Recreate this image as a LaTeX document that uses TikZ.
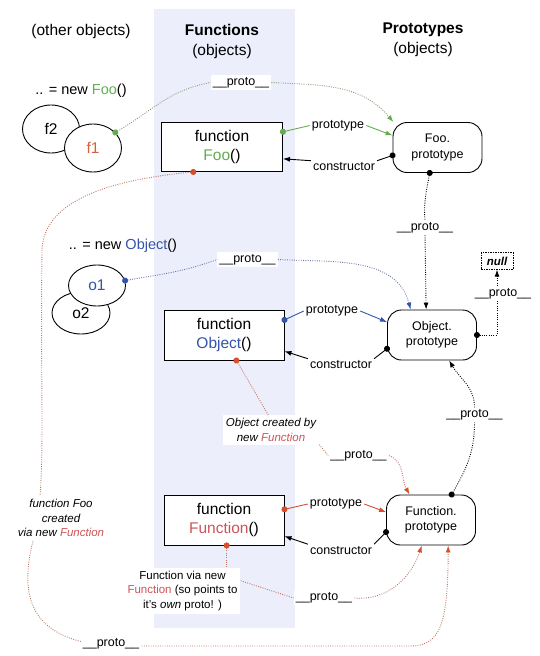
\documentclass[tikz,border=0pt]{standalone}
\usepackage{fontspec}
\setmainfont{Liberation Sans}
\usetikzlibrary{arrows.meta,shapes.geometric}
\definecolor{bandblue}{RGB}{236,238,251}
\definecolor{fgreen}{RGB}{98,172,78}
\definecolor{fblue}{RGB}{52,84,168}
\definecolor{fred}{RGB}{214,78,42}
\definecolor{fpink}{RGB}{204,84,88}
\definecolor{forange}{RGB}{210,100,60}
\definecolor{dgreen}{RGB}{130,155,120}
\definecolor{dblue}{RGB}{105,118,160}
\definecolor{dred}{RGB}{190,115,98}

\begin{document}
\begin{tikzpicture}[x=1pt,y=1pt]
			\tikzstyle{every node}+=[inner sep=0pt]
			\tikzstyle{hdr}=[align=center,font=\fontsize{15.5}{20}\selectfont]
			\tikzstyle{newlbl}=[font=\fontsize{14.5}{17}\selectfont]
			\tikzstyle{fbox}=[draw,line width=0.9pt,fill=white,minimum width=121pt,minimum height=49pt,align=center,font=\fontsize{15.5}{19.5}\selectfont]
			\tikzstyle{pbox}=[draw,line width=0.9pt,fill=white,rounded corners=14pt,minimum width=89pt,minimum height=50pt,align=center,font=\fontsize{12.5}{15.5}\selectfont]
			\tikzstyle{obj}=[draw,ellipse,line width=0.9pt,fill=white,minimum width=57pt,minimum height=48pt,font=\fontsize{15.5}{18}\selectfont]
			\tikzstyle{nullbox}=[draw,line width=0.8pt,dash pattern=on 1.5pt off 1pt,minimum width=32pt,minimum height=16.5pt,font=\fontsize{11.5}{14}\selectfont\bfseries\itshape]
			\tikzstyle{lbl}=[fill=white,inner sep=2pt,font=\fontsize{12.5}{15}\selectfont]
			\tikzstyle{note}=[fill=white,inner sep=3pt,align=center,font=\fontsize{11.5}{14.6}\selectfont]
			\tikzstyle{dotlink}=[line width=0.9pt,dash pattern=on 0.9pt off 1.4pt]
			\tikzstyle{solidlink}=[line width=0.9pt]
			\tikzstyle{dotstart}=[{Circle[length=6pt,color=#1]}-,shorten <=-3pt]
			\tikzstyle{arrowend}=[-{Latex[length=7pt,width=5pt,color=#1]}]
			\tikzstyle{dotarrow}=[{Circle[length=6pt,color=#1]}-{Latex[length=7pt,width=5pt,color=#1]},shorten <=-3pt]
			\useasboundingbox (0,0) rectangle (539,-656);
			\fill [bandblue] (154,-9) rectangle (295,-628);
			\node [hdr] (hother) at (81,-31) {(other objects)};
			\node [hdr] (hfunc) at (222,-41) {\textbf{Functions}\\(objects)};
			\node [hdr] (hproto) at (423,-40) {\textbf{Prototypes}\\(objects)};
			\node [newlbl] (newfoo) at (81,-91) {.. = new \textcolor{fgreen}{Foo}()};
			\node [obj] (f2) at (51,-129) {f2};
			\node [obj] (f1) at (93,-148) {\textcolor{forange}{f1}};
			\node [fbox] (foo) at (222,-147) {function\\\textcolor{fgreen}{Foo}()};
			\node [pbox] (fooproto) at (437.5,-147.5) {Foo.\\prototype};
			\node [newlbl] (newobj) at (123,-246) {.. = new \textcolor{fblue}{Object}()};
			\node [obj,minimum width=58pt,minimum height=42pt] (o2) at (81,-313) {o2};
			\node [obj,minimum height=41pt] (o1) at (97,-285.5) {\textcolor{fblue}{o1}};
			\node [fbox,minimum width=120pt,minimum height=50pt] (objbox) at (224,-335) {function\\\textcolor{fblue}{Object}()};
			\node [pbox] (objproto) at (432,-335) {Object.\\prototype};
			\node [nullbox] (null) at (497,-261) {null};
			\node [fbox,minimum width=120pt,minimum height=50pt] (funcbox) at (224,-520) {function\\\textcolor{fpink}{Function}()};
			\node [pbox] (funcproto) at (431,-520) {Function.\\prototype};
			\node [lbl] (p1) at (241,-82.5) {\_\_proto\_\_};
			\node [lbl] (pt1) at (338,-125.5) {prototype};
			\node [lbl] (c1) at (344,-167) {constructor};
			\node [lbl] (p2) at (425,-227.6) {\_\_proto\_\_};
			\node [lbl] (p3) at (247.5,-259.5) {\_\_proto\_\_};
			\node [lbl] (pt2) at (332,-311) {prototype};
			\node [lbl] (c2) at (341,-365) {constructor};
			\node [note,font=\fontsize{11.5}{14.6}\selectfont\itshape] (objcr) at (271,-430) {Object created by\\new \textcolor{fpink}{Function}};
			\node [lbl] (p4) at (358.5,-455.6) {\_\_proto\_\_};
			\node [lbl] (p5) at (474.5,-415) {\_\_proto\_\_};
			\node [lbl] (pt3) at (336,-504) {prototype};
			\node [lbl] (c3) at (341,-550.5) {constructor};
			\node [note] (fvia) at (182.5,-591) {Function via new\\\textcolor{fpink}{Function} (so points to\\it's \textit{own} proto! )};
			\node [lbl] (p6) at (324,-598) {\_\_proto\_\_};
			\draw [dotlink,dgreen,dotstart=fgreen] (f1.35) to[out=30,in=190] (p1.west);
			\draw [dotlink,dgreen,arrowend=fgreen] (p1.east) to[out=-3,in=130] (fooproto.150);
			\draw [solidlink,fgreen,dotstart=fgreen] (foo.14) -- (pt1.west);
			\draw [solidlink,fgreen,arrowend=fgreen] (pt1.east) -- (fooproto.165);
			\draw [solidlink,dotstart=black] (fooproto.190) -- (c1.north east);
			\draw [solidlink,arrowend=black] (c1.north west) -- (foo.-11);
			\draw [dotlink,black,dotstart=black] (fooproto.253) to[out=-100,in=95] (p2.north);
			\draw [dotlink,black,arrowend=black] (p2.south) -- (objproto.103);
			\draw [dotlink,dblue,dotstart=fblue] (o1.10) to[out=10,in=200] (p3.west);
			\draw [dotlink,dblue,arrowend=fblue] (p3.east) to[out=-3,in=105] (objproto.130);
			\draw [solidlink,fblue,dotstart=fblue] (objbox.14) -- (pt2.west);
			\draw [solidlink,fblue,arrowend=fblue] (pt2.east) -- (objproto.164);
			\draw [solidlink,dotstart=black] (objproto.197) -- (c2.north east);
			\draw [solidlink,arrowend=black] (c2.north west) -- (objbox.-15);
			\draw [dotlink,black,dotarrow=black] (objproto.east) -| (null.south);
			\node [lbl] (pnull) at (503,-294) {\_\_proto\_\_};
			\draw [dotlink,dred,dotstart=fred] (objbox.-64) -- (objcr.100);
			\draw [dotlink,dred] (objcr.south east) -- (p4.west);
			\draw [dotlink,dred,arrowend=fred] (p4.east) to[out=-20,in=120] (funcproto.130);
			\draw [dotlink,black,dotstart=black] (funcproto.51) to[out=60,in=-90] (p5.south);
			\draw [dotlink,black,arrowend=black] (p5.north) to[out=90,in=-60] (objproto.-56);
			\draw [solidlink,fred,dotstart=fred] (funcbox.10) -- (pt3.west);
			\draw [solidlink,fred,arrowend=fred] (pt3.east) -- (funcproto.170);
			\draw [solidlink,dotstart=black] (funcproto.195) -- (c3.north east);
			\draw [solidlink,arrowend=black] (c3.north west) -- (funcbox.-15);
			\draw [dotlink,dred,dotstart=fred] (funcbox.-84) -- (funcbox.-84 |- fvia.north);
			\draw [dotlink,dred] (fvia.10) -- (p6.west);
			\draw [dotlink,dred,arrowend=fred] (p6.east) to[out=-5,in=-108] (funcproto.250);
			\draw [dotlink,dred,dotarrow=fred] (foo.221) .. controls (110,-180) and (44,-200) .. (42,-250) .. controls (40,-400) and (46,-470) .. (36,-530) .. controls (18,-590) and (24,-640) .. (111,-646) -- (410,-646) .. controls (440,-646) and (448,-625) .. (funcproto.-56);
			\node [note,font=\fontsize{11.5}{14.5}\selectfont\itshape] (foocr) at (61,-518) {function Foo\\created\\via new \textcolor{fpink}{Function}};
			\node [lbl] (p7) at (111,-644) {\_\_proto\_\_};
		\end{tikzpicture}
\end{document}
